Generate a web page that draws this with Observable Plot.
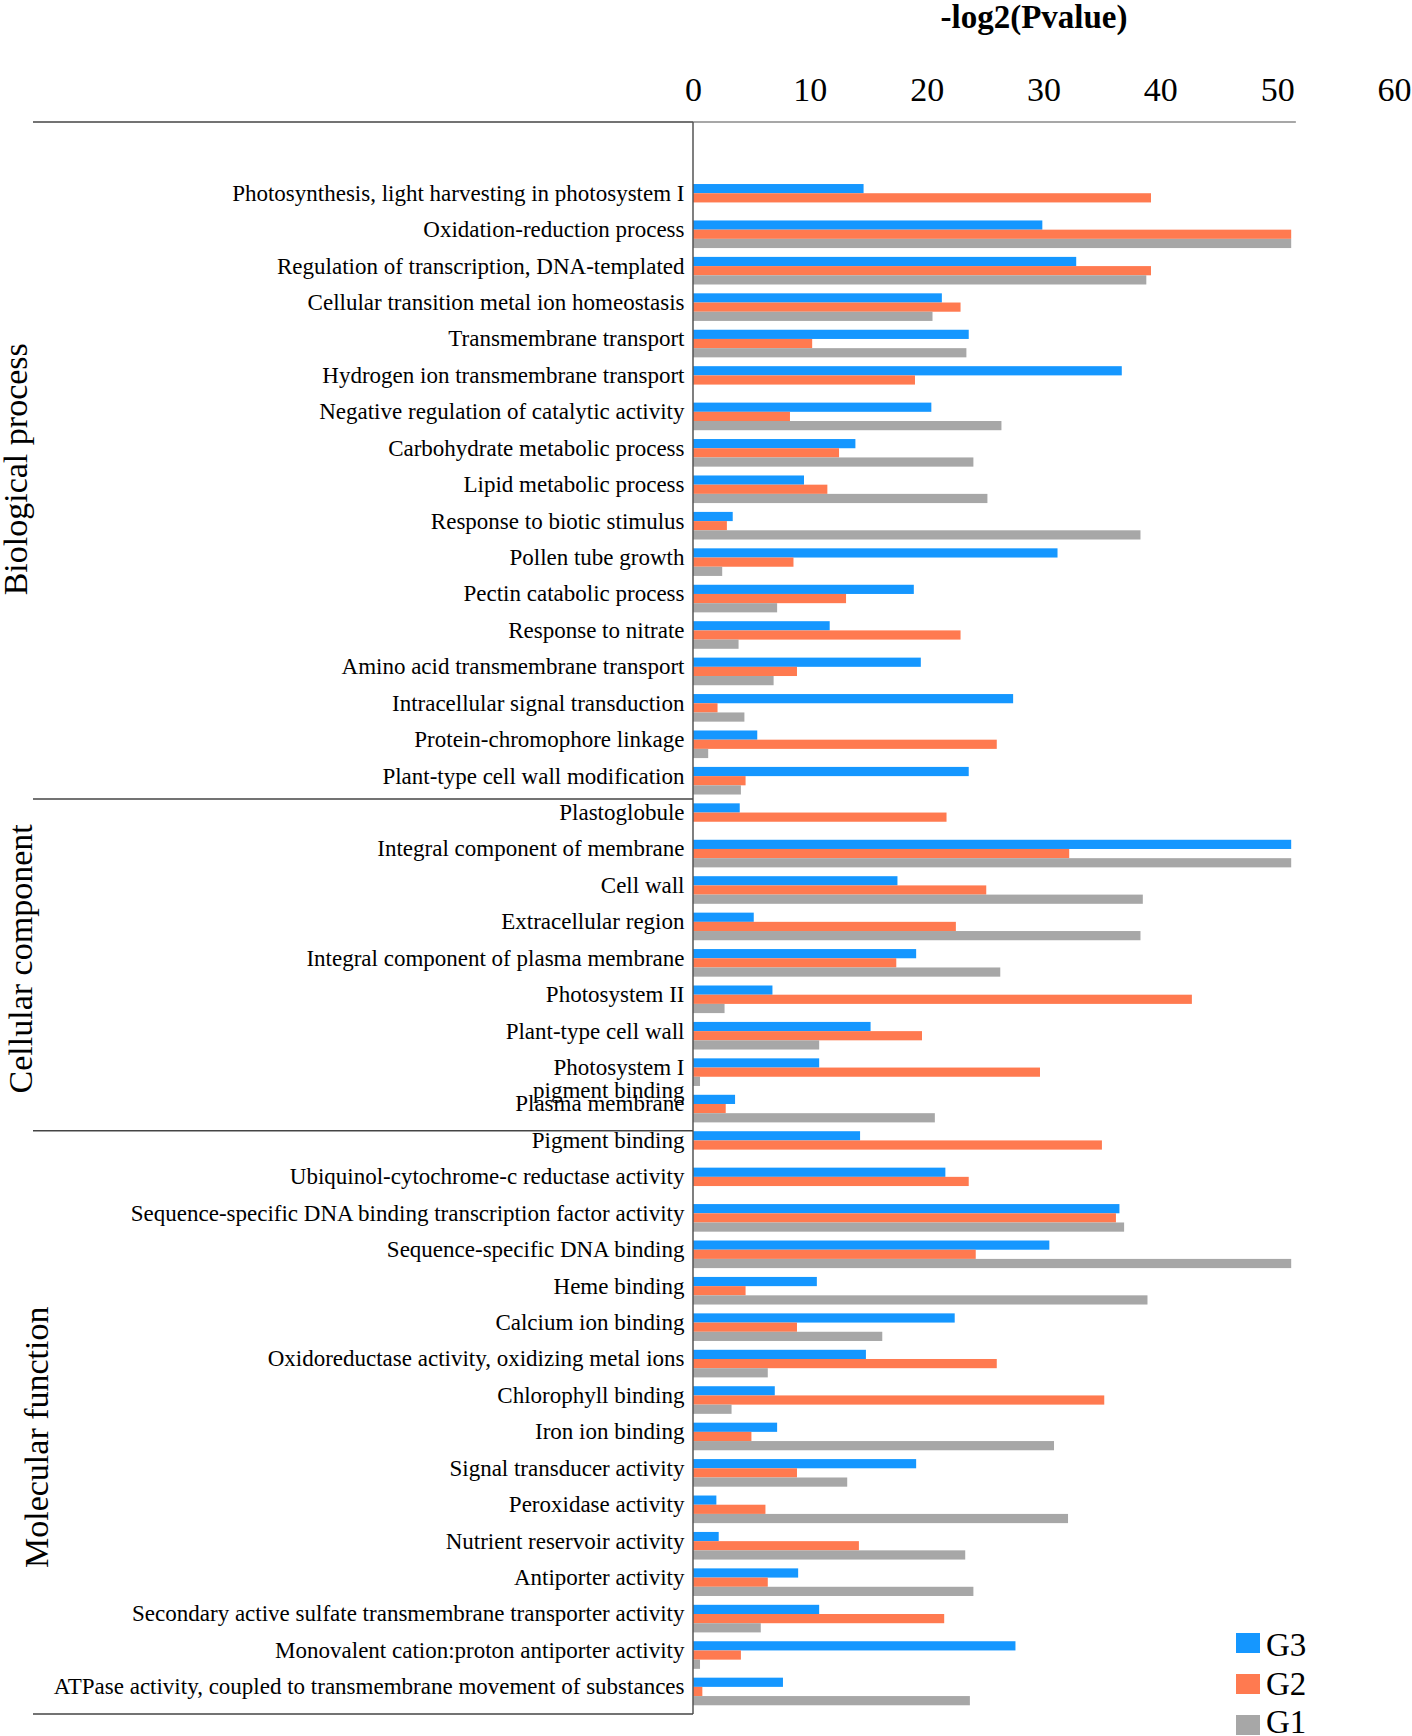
<!DOCTYPE html>
<html>
<head>
<meta charset="utf-8">
<script src="https://cdn.jsdelivr.net/npm/d3@7"></script>
<script src="https://cdn.jsdelivr.net/npm/@observablehq/plot@0.6"></script>
<style>
html, body { margin: 0; padding: 0; background: #fff; }
#chart { position: relative; width: 1412px; height: 1736px; }
</style>
</head>
<body>
<div id="chart"></div>
<script>
// ---------------- data ----------------
const bpCategories = [
  "Photosynthesis, light harvesting in photosystem I",
  "Oxidation-reduction process",
  "Regulation of transcription, DNA-templated",
  "Cellular transition metal ion homeostasis",
  "Transmembrane transport",
  "Hydrogen ion transmembrane transport",
  "Negative regulation of catalytic activity",
  "Carbohydrate metabolic process",
  "Lipid metabolic process",
  "Response to biotic stimulus",
  "Pollen tube growth",
  "Pectin catabolic process",
  "Response to nitrate",
  "Amino acid transmembrane transport",
  "Intracellular signal transduction",
  "Protein-chromophore linkage",
  "Plant-type cell wall modification"
];
const ccCategories = [
  "Plastoglobule",
  "Integral component of membrane",
  "Cell wall",
  "Extracellular region",
  "Integral component of plasma membrane",
  "Photosystem II",
  "Plant-type cell wall",
  "Photosystem I\npigment binding",
  "Plasma membrane"
];
const mfCategories = [
  "Pigment binding",
  "Ubiquinol-cytochrome-c reductase activity",
  "Sequence-specific DNA binding transcription factor activity",
  "Sequence-specific DNA binding",
  "Heme binding",
  "Calcium ion binding",
  "Oxidoreductase activity, oxidizing metal ions",
  "Chlorophyll binding",
  "Iron ion binding",
  "Signal transducer activity",
  "Peroxidase activity",
  "Nutrient reservoir activity",
  "Antiporter activity",
  "Secondary active sulfate transmembrane transporter activity",
  "Monovalent cation:proton antiporter activity",
  "ATPase activity, coupled to transmembrane movement of substances"
];
const groupNames = ["Biological process", "Cellular component", "Molecular function"];
const seriesNames = ["G3", "G2", "G1"];

const g3Values = [
  14.6, 29.9, 32.8, 21.3, 23.6, 36.7, 20.4, 13.9, 9.5, 3.4, 31.2, 18.9, 11.7, 19.5, 27.4, 5.5, 23.6,
  4.0, 51.2, 17.5, 5.2, 19.1, 6.8, 15.2, 10.8, 3.6,
  14.3, 21.6, 36.5, 30.5, 10.6, 22.4, 14.8, 7.0, 7.2, 19.1, 2.0, 2.2, 9.0, 10.8, 27.6, 7.7
];
const g2Values = [
  39.2, 51.2, 39.2, 22.9, 10.2, 19.0, 8.3, 12.5, 11.5, 2.9, 8.6, 13.1, 22.9, 8.9, 2.1, 26.0, 4.5,
  21.7, 32.2, 25.1, 22.5, 17.4, 42.7, 19.6, 29.7, 2.8,
  35.0, 23.6, 36.2, 24.2, 4.5, 8.9, 26.0, 35.2, 5.0, 8.9, 6.2, 14.2, 6.4, 21.5, 4.1, 0.8
];
const g1Values = [
  null, 51.2, 38.8, 20.5, 23.4, null, 26.4, 24.0, 25.2, 38.3, 2.5, 7.2, 3.9, 6.9, 4.4, 1.3, 4.1,
  null, 51.2, 38.5, 38.3, 26.3, 2.7, 10.8, 0.6, 20.7,
  null, null, 36.9, 51.2, 38.9, 16.2, 6.4, 3.3, 30.9, 13.2, 32.1, 23.3, 24.0, 5.8, 0.6, 23.7
];
const xTicks = [0, 10, 20, 30, 40, 50, 60];
const xDomain = [0, 60];
const axisLineEnd = 51.6;
const titleText = "-log2(Pvalue)";

// ---------------- styling / layout ----------------
const colors = ["#1597ff", "#ff7a50", "#a7a7a7"];
const W = 1412, H = 1736;
const serif = "'Liberation Serif', 'Times New Roman', Times, serif";
const pad = 0.2424;
const yRange = [175.2, 1714.1];
const leftEdge = 33;
const groupLabelX = [15, 20, 36];
const groupLabelNudge = [-20, -4, 19];
const separatorNudge = [0, 4];
const legend = {x: 1236, y: 1633, step: 41, w: 24, h: 20, textX: 1266, textY: 1656, textStep: 38.5, fontSize: 33};

// ---------------- build table ----------------
const categories = [...bpCategories, ...ccCategories, ...mfCategories];
const groups = [bpCategories, ccCategories, mfCategories];
const table = categories.map((c, i) => ({category: c, G3: g3Values[i], G2: g2Values[i], G1: g1Values[i]}));

const nCat = categories.length;
const step = (yRange[1] - yRange[0]) / (nCat - pad + 2 * pad);
const bw = step * (1 - pad);
const third = bw / 3;

function decorations(index, scales, values, dims) {
  const x = scales.x, y = scales.y;
  const g = d3.create("svg:g");
  const x0 = dims.marginLeft;
  const top = dims.marginTop;
  const bottom = dims.height - dims.marginBottom;
  const gapHalf = (y.step() - y.bandwidth()) / 2;
  const line = (x1, y1, x2, y2, stroke, sw = 1.5) =>
    g.append("line").attr("x1", x1).attr("y1", y1).attr("x2", x2).attr("y2", y2)
      .attr("stroke", stroke).attr("stroke-width", sw);
  line(leftEdge, top, x0, top, "#444");
  line(x(0), top, x(axisLineEnd), top, "#8a8a8a");
  line(x0, top, x0, bottom, "#555");
  line(leftEdge, bottom, x0, bottom, "#444");
  groups.slice(1).forEach((gr, i) => {
    const yy = y(gr[0]) - gapHalf + separatorNudge[i];
    line(leftEdge, yy, x0, yy, "#444");
  });
  groups.forEach((gr, i) => {
    const cy = d3.mean(gr, c => y(c) + y.bandwidth() / 2) + groupLabelNudge[i];
    g.append("text")
      .attr("transform", `translate(${groupLabelX[i]},${cy}) rotate(-90)`)
      .attr("text-anchor", "middle")
      .attr("dominant-baseline", "central")
      .attr("font-size", 34)
      .attr("font-family", serif)
      .attr("fill", "black")
      .text(groupNames[i]);
  });
  seriesNames.forEach((s, i) => {
    const ty = legend.y + i * legend.step;
    g.append("rect").attr("x", legend.x).attr("y", ty).attr("width", legend.w).attr("height", legend.h)
      .attr("fill", colors[i]);
    g.append("text").attr("x", legend.textX).attr("y", legend.textY + i * legend.textStep)
      .attr("text-anchor", "start")
      .attr("font-size", legend.fontSize).attr("font-family", serif).attr("fill", "black").text(s);
  });
  return g.node();
}

const chart = Plot.plot({
  width: W,
  height: H,
  marginLeft: 693,
  marginRight: 18,
  marginTop: 122,
  marginBottom: 22,
  style: {fontFamily: serif, background: "white", color: "black", overflow: "visible"},
  x: {domain: xDomain, axis: null},
  y: {type: "band", domain: categories, range: yRange, paddingInner: pad, paddingOuter: pad, round: false, axis: null},
  marks: [
    Plot.barX(table, {y: "category", x: "G3", fill: colors[0], insetBottom: 2 * third}),
    Plot.barX(table, {y: "category", x: "G2", fill: colors[1], insetTop: third, insetBottom: third}),
    Plot.barX(table, {y: "category", x: "G1", fill: colors[2], insetTop: 2 * third}),
    Plot.axisX(xTicks, {anchor: "top", tickSize: 0, tickPadding: 22, fontSize: 34, label: null, fontFamily: serif}),
    Plot.text(table, {
      y: "category", text: "category", frameAnchor: "left", textAnchor: "end",
      lineAnchor: "top", lineHeight: 1.0, dx: -9, dy: -14, fontSize: 23, fill: "black"
    }),
    Plot.text([titleText], {
      text: d => d, frameAnchor: "top", lineAnchor: "bottom", dx: -10, dy: -95,
      fontSize: 33, fontWeight: "bold", fill: "black"
    }),
    decorations
  ]
});
document.getElementById("chart").appendChild(chart);
</script>
</body>
</html>
